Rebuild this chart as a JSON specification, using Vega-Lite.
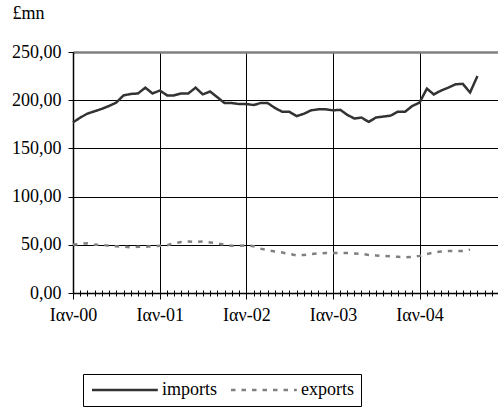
{
  "$schema": "https://vega.github.io/schema/vega-lite/v6.json",
  "width": 426,
  "height": 241,
  "autosize": {"type": "none"},
  "padding": {"left": 73, "top": 52, "right": 0, "bottom": 116},
  "background": "white",
  "config": {
    "view": {"stroke": null},
    "font": "Times New Roman, Liberation Serif, serif",
    "axis": {
      "labelFont": "Times New Roman, Liberation Serif, serif",
      "labelFontSize": 18,
      "labelColor": "black",
      "domainColor": "black",
      "tickColor": "black",
      "titleFont": "Times New Roman, Liberation Serif, serif",
      "titleFontWeight": "normal",
      "titleColor": "black"
    },
    "legend": {
      "labelFont": "Times New Roman, Liberation Serif, serif",
      "labelFontSize": 18,
      "labelColor": "black"
    }
  },
  "data": {
    "values": [
      {"d": "2000-01-01", "imports": 177, "exports": 50},
      {"d": "2000-02-01", "imports": 182, "exports": 51},
      {"d": "2000-03-01", "imports": 186, "exports": 51.5},
      {"d": "2000-04-01", "imports": 188.5, "exports": 50},
      {"d": "2000-05-01", "imports": 191, "exports": 50},
      {"d": "2000-06-01", "imports": 194, "exports": 49},
      {"d": "2000-07-01", "imports": 197.5, "exports": 48.5},
      {"d": "2000-08-01", "imports": 205, "exports": 48},
      {"d": "2000-09-01", "imports": 206.5, "exports": 47.5},
      {"d": "2000-10-01", "imports": 207, "exports": 48},
      {"d": "2000-11-01", "imports": 213, "exports": 48},
      {"d": "2000-12-01", "imports": 207, "exports": 48.5},
      {"d": "2001-01-01", "imports": 210, "exports": 49},
      {"d": "2001-02-01", "imports": 205, "exports": 49.5},
      {"d": "2001-03-01", "imports": 205, "exports": 51.5},
      {"d": "2001-04-01", "imports": 207, "exports": 53},
      {"d": "2001-05-01", "imports": 207, "exports": 53.5},
      {"d": "2001-06-01", "imports": 213, "exports": 53},
      {"d": "2001-07-01", "imports": 206, "exports": 53.5},
      {"d": "2001-08-01", "imports": 209, "exports": 52.5},
      {"d": "2001-09-01", "imports": 203, "exports": 51.5},
      {"d": "2001-10-01", "imports": 197, "exports": 50},
      {"d": "2001-11-01", "imports": 197, "exports": 49},
      {"d": "2001-12-01", "imports": 196, "exports": 49},
      {"d": "2002-01-01", "imports": 196, "exports": 49.5},
      {"d": "2002-02-01", "imports": 195, "exports": 48.5},
      {"d": "2002-03-01", "imports": 197, "exports": 46},
      {"d": "2002-04-01", "imports": 197, "exports": 44.5},
      {"d": "2002-05-01", "imports": 192, "exports": 43},
      {"d": "2002-06-01", "imports": 188, "exports": 42},
      {"d": "2002-07-01", "imports": 188, "exports": 40.5},
      {"d": "2002-08-01", "imports": 183.5, "exports": 39},
      {"d": "2002-09-01", "imports": 186, "exports": 39.5},
      {"d": "2002-10-01", "imports": 189.5, "exports": 40.5},
      {"d": "2002-11-01", "imports": 190.5, "exports": 41},
      {"d": "2002-12-01", "imports": 190.5, "exports": 41.5},
      {"d": "2003-01-01", "imports": 189.5, "exports": 41.5},
      {"d": "2003-02-01", "imports": 190, "exports": 41.5},
      {"d": "2003-03-01", "imports": 185, "exports": 41.5},
      {"d": "2003-04-01", "imports": 181, "exports": 41},
      {"d": "2003-05-01", "imports": 182, "exports": 40.5},
      {"d": "2003-06-01", "imports": 177.5, "exports": 39.5},
      {"d": "2003-07-01", "imports": 182, "exports": 39},
      {"d": "2003-08-01", "imports": 183, "exports": 38.5},
      {"d": "2003-09-01", "imports": 184, "exports": 38},
      {"d": "2003-10-01", "imports": 188, "exports": 37.5},
      {"d": "2003-11-01", "imports": 188, "exports": 37},
      {"d": "2003-12-01", "imports": 194, "exports": 37.5},
      {"d": "2004-01-01", "imports": 197.5, "exports": 38.5},
      {"d": "2004-02-01", "imports": 212, "exports": 40.5},
      {"d": "2004-03-01", "imports": 206, "exports": 42},
      {"d": "2004-04-01", "imports": 210, "exports": 43},
      {"d": "2004-05-01", "imports": 213, "exports": 43.5},
      {"d": "2004-06-01", "imports": 216.5, "exports": 43.5},
      {"d": "2004-07-01", "imports": 217, "exports": 43.5},
      {"d": "2004-08-01", "imports": 208, "exports": 45},
      {"d": "2004-09-01", "imports": 225, "exports": null}
    ]
  },
  "transform": [
    {"fold": ["imports", "exports"], "as": ["series", "value"]},
    {"filter": "datum.value != null"}
  ],
  "layer": [
    {
      "mark": {"type": "line", "strokeWidth": 2.5, "clip": false},
      "encoding": {
        "x": {
          "field": "d",
          "type": "temporal",
          "scale": {"type": "utc", "domain": [{"year": 2000, "month": 1, "date": 1, "utc": true}, {"year": 2004, "month": 12, "date": 1, "utc": true}]},
          "axis": {
            "orient": "bottom",
            "title": null,
            "tickCount": {"interval": "month", "step": 1},
            "labelExpr": "utcmonth(datum.value) == 0 ? 'Ιαν-' + utcFormat(datum.value, '%y') : ''",
            "labelFont": "Times New Roman, Liberation Serif, serif",
            "labelFontSize": 18,
            "labelOverlap": false,
            "labelFlush": false,
            "labelPadding": 7,
            "grid": true,
            "gridColor": "black",
            "gridWidth": 1,
            "gridOpacity": {"condition": {"test": "utcmonth(datum.value) == 0", "value": 1}, "value": 0},
            "tickSize": {"condition": {"test": "utcmonth(datum.value) == 0", "value": 6}, "value": 3},
            "domainWidth": 1.5,
            "tickWidth": 1
          }
        },
        "y": {
          "field": "value",
          "type": "quantitative",
          "scale": {"domain": [0, 250], "nice": false},
          "axis": {
            "values": [0, 50, 100, 150, 200, 250],
            "labelExpr": "replace(format(datum.value, '.2f'), '.', ',')",
            "labelFont": "Times New Roman, Liberation Serif, serif",
            "labelFontSize": 18,
            "title": "£mn",
            "titleFont": "Times New Roman, Liberation Serif, serif",
            "titleAngle": 0,
            "titleAlign": "left",
            "titleBaseline": "alphabetic",
            "titleX": -61,
            "titleY": -34,
            "titleFontSize": 18,
            "tickSize": 5,
            "labelPadding": 7,
            "domainWidth": 1.5,
            "grid": true,
            "gridColor": {"condition": {"test": "datum.value == 250", "value": "#808080"}, "value": "black"},
            "gridWidth": {"condition": {"test": "datum.value == 250", "value": 2.5}, "value": 1}
          }
        },
        "color": {
          "field": "series",
          "type": "nominal",
          "sort": ["imports", "exports"],
          "scale": {"domain": ["imports", "exports"], "range": ["#333333", "#808080"]},
          "legend": {
            "title": null,
            "orient": "none",
            "legendX": 10,
            "legendY": 322,
            "direction": "horizontal",
            "padding": 7,
            "strokeColor": "black",
            "fillColor": "white",
            "labelFont": "Times New Roman, Liberation Serif, serif",
            "labelFontSize": 18,
            "symbolType": "M-1,0H8.4",
            "symbolSize": 196,
            "symbolStrokeWidth": 2.5,
            "labelOffset": 54,
            "columnPadding": 8
          }
        },
        "strokeDash": {
          "field": "series",
          "type": "nominal",
          "sort": ["imports", "exports"],
          "scale": {"domain": ["imports", "exports"], "range": [[1, 0], [4.5, 6]]},
          "legend": null
        }
      }
    },
    {
      "mark": {"type": "point", "opacity": 0},
      "encoding": {
        "x": {
          "field": "d",
          "type": "temporal",
          "axis": {
            "orient": "bottom",
            "title": null,
            "offset": -3,
            "domain": false,
            "labels": false,
            "grid": false,
            "tickCount": {"interval": "month", "step": 1},
            "tickSize": 3,
            "tickWidth": 1
          }
        }
      }
    }
  ],
  "resolve": {"axis": {"x": "independent"}}
}
